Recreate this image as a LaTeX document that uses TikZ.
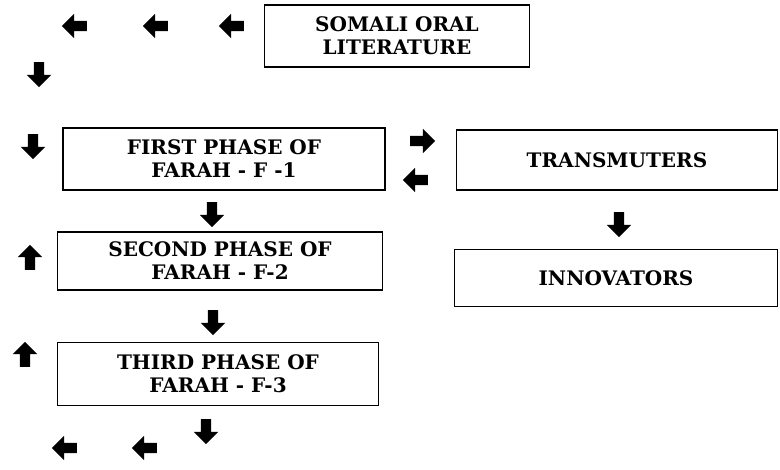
\documentclass[tikz,border=0pt]{standalone}
\usepackage{fontspec}
\setmainfont{DejaVu Serif}
\usetikzlibrary{shapes.arrows}

\begin{document}
\begin{tikzpicture}[x=1pt, y=-1pt,
	phasebox/.style={draw, line width=1.8pt, align=center, inner sep=0pt,
		font=\fontsize{20}{23}\selectfont\bfseries},
	blockarr/.style={single arrow, fill=black, draw=none, minimum height=25pt,
		inner sep=5pt, single arrow head extend=7pt},
	rarr/.style={blockarr},
	larr/.style={blockarr, shape border rotate=180},
	uarr/.style={blockarr, shape border rotate=90},
	darr/.style={blockarr, shape border rotate=270}]
					\useasboundingbox (0,0) rectangle (780,470);
					% boxes
					\node[phasebox, minimum width=265pt, minimum height=62pt] (oral) at (397,36) {SOMALI ORAL\\LITERATURE};
					\node[phasebox, minimum width=322pt, minimum height=62pt] (first) at (224,159) {FIRST PHASE OF\\FARAH - F -1};
					\node[phasebox, minimum width=325pt, minimum height=58pt] (second) at (220,261) {SECOND PHASE OF\\FARAH - F-2};
					\node[phasebox, minimum width=321pt, minimum height=63pt] (third) at (218,374) {THIRD PHASE OF\\FARAH - F-3};
					\node[phasebox, minimum width=321pt, minimum height=60pt] (trans) at (617,160) {TRANSMUTERS};
					\node[phasebox, minimum width=323pt, minimum height=57pt] (innov) at (616,278) {INNOVATORS};
					% block arrows
					\node[larr] (top1) at (77,26) {}; \node[larr] (top2) at (158,26) {}; \node[larr] (top3) at (234,26) {};
					\node[darr] (down0) at (39,72) {}; \node[darr] (down1) at (33,144) {};
					\node[uarr] (up2) at (30,260) {}; \node[uarr] (up3) at (25,357) {};
					\node[rarr] (totrans) at (420,141) {}; \node[larr] (fromtrans) at (418,180) {};
					\node[darr] (mid1) at (212,212) {}; \node[darr] (mid2) at (213,320) {}; \node[darr] (mid3) at (206,429) {};
					\node[darr] (toinnov) at (619,222) {};
					\node[larr] (bot1) at (67,448) {}; \node[larr] (bot2) at (147,448) {};
				\end{tikzpicture}
\end{document}
